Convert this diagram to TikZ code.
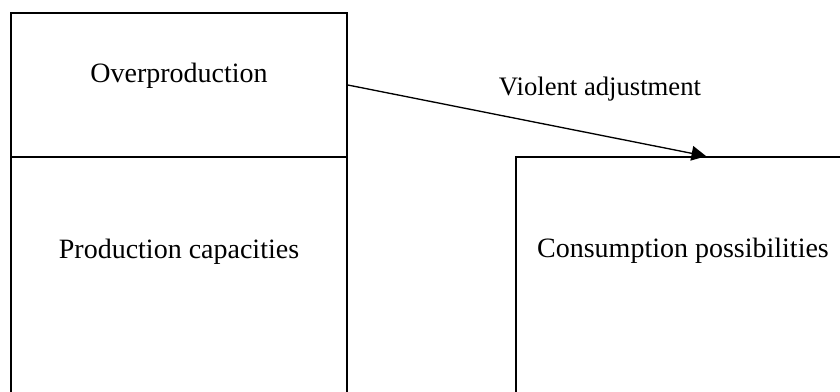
\documentclass[tikz,border=0pt]{standalone}
\usepackage{fontspec}
\setmainfont{Liberation Serif}
\usetikzlibrary{calc,arrows.meta}
\begin{document}
\begin{tikzpicture}[x=0.75pt,y=-0.75pt,
  box/.style={draw, line width=1.2pt, rectangle, inner sep=0pt},
  lbl/.style={font=\fontsize{21}{24}\selectfont, inner sep=0pt, anchor=base},
  conn/.style={line width=1pt, -{Triangle[length=11pt,width=11pt]}}]
\useasboundingbox (0,0) rectangle (840,392);
\clip (0,0) rectangle (840,392);
\fill[white] (0,0) rectangle (840,392);
\node[box, minimum width=252pt, minimum height=108pt] (over) at (179,85) {};
\node[box, minimum width=252pt, minimum height=182.25pt] (prod) at (179,278.5) {};
\node[box, minimum width=250.5pt, minimum height=182.25pt] (cons) at (683,278.5) {};
\node[lbl] (overtxt) at (179,83) {Overproduction};
\node[lbl] (prodtxt) at (179,259) {Production capacities};
\node[lbl] (constxt) at (683,258) {Consumption possibilities};
\coordinate (tip) at ($(cons.north west)+(191,0)$);
\draw[conn] (over.east) -- (tip);
\node[font=\fontsize{20}{24}\selectfont, inner sep=0pt, anchor=base] (adj) at (600,96) {Violent adjustment};
\end{tikzpicture}
\end{document}
